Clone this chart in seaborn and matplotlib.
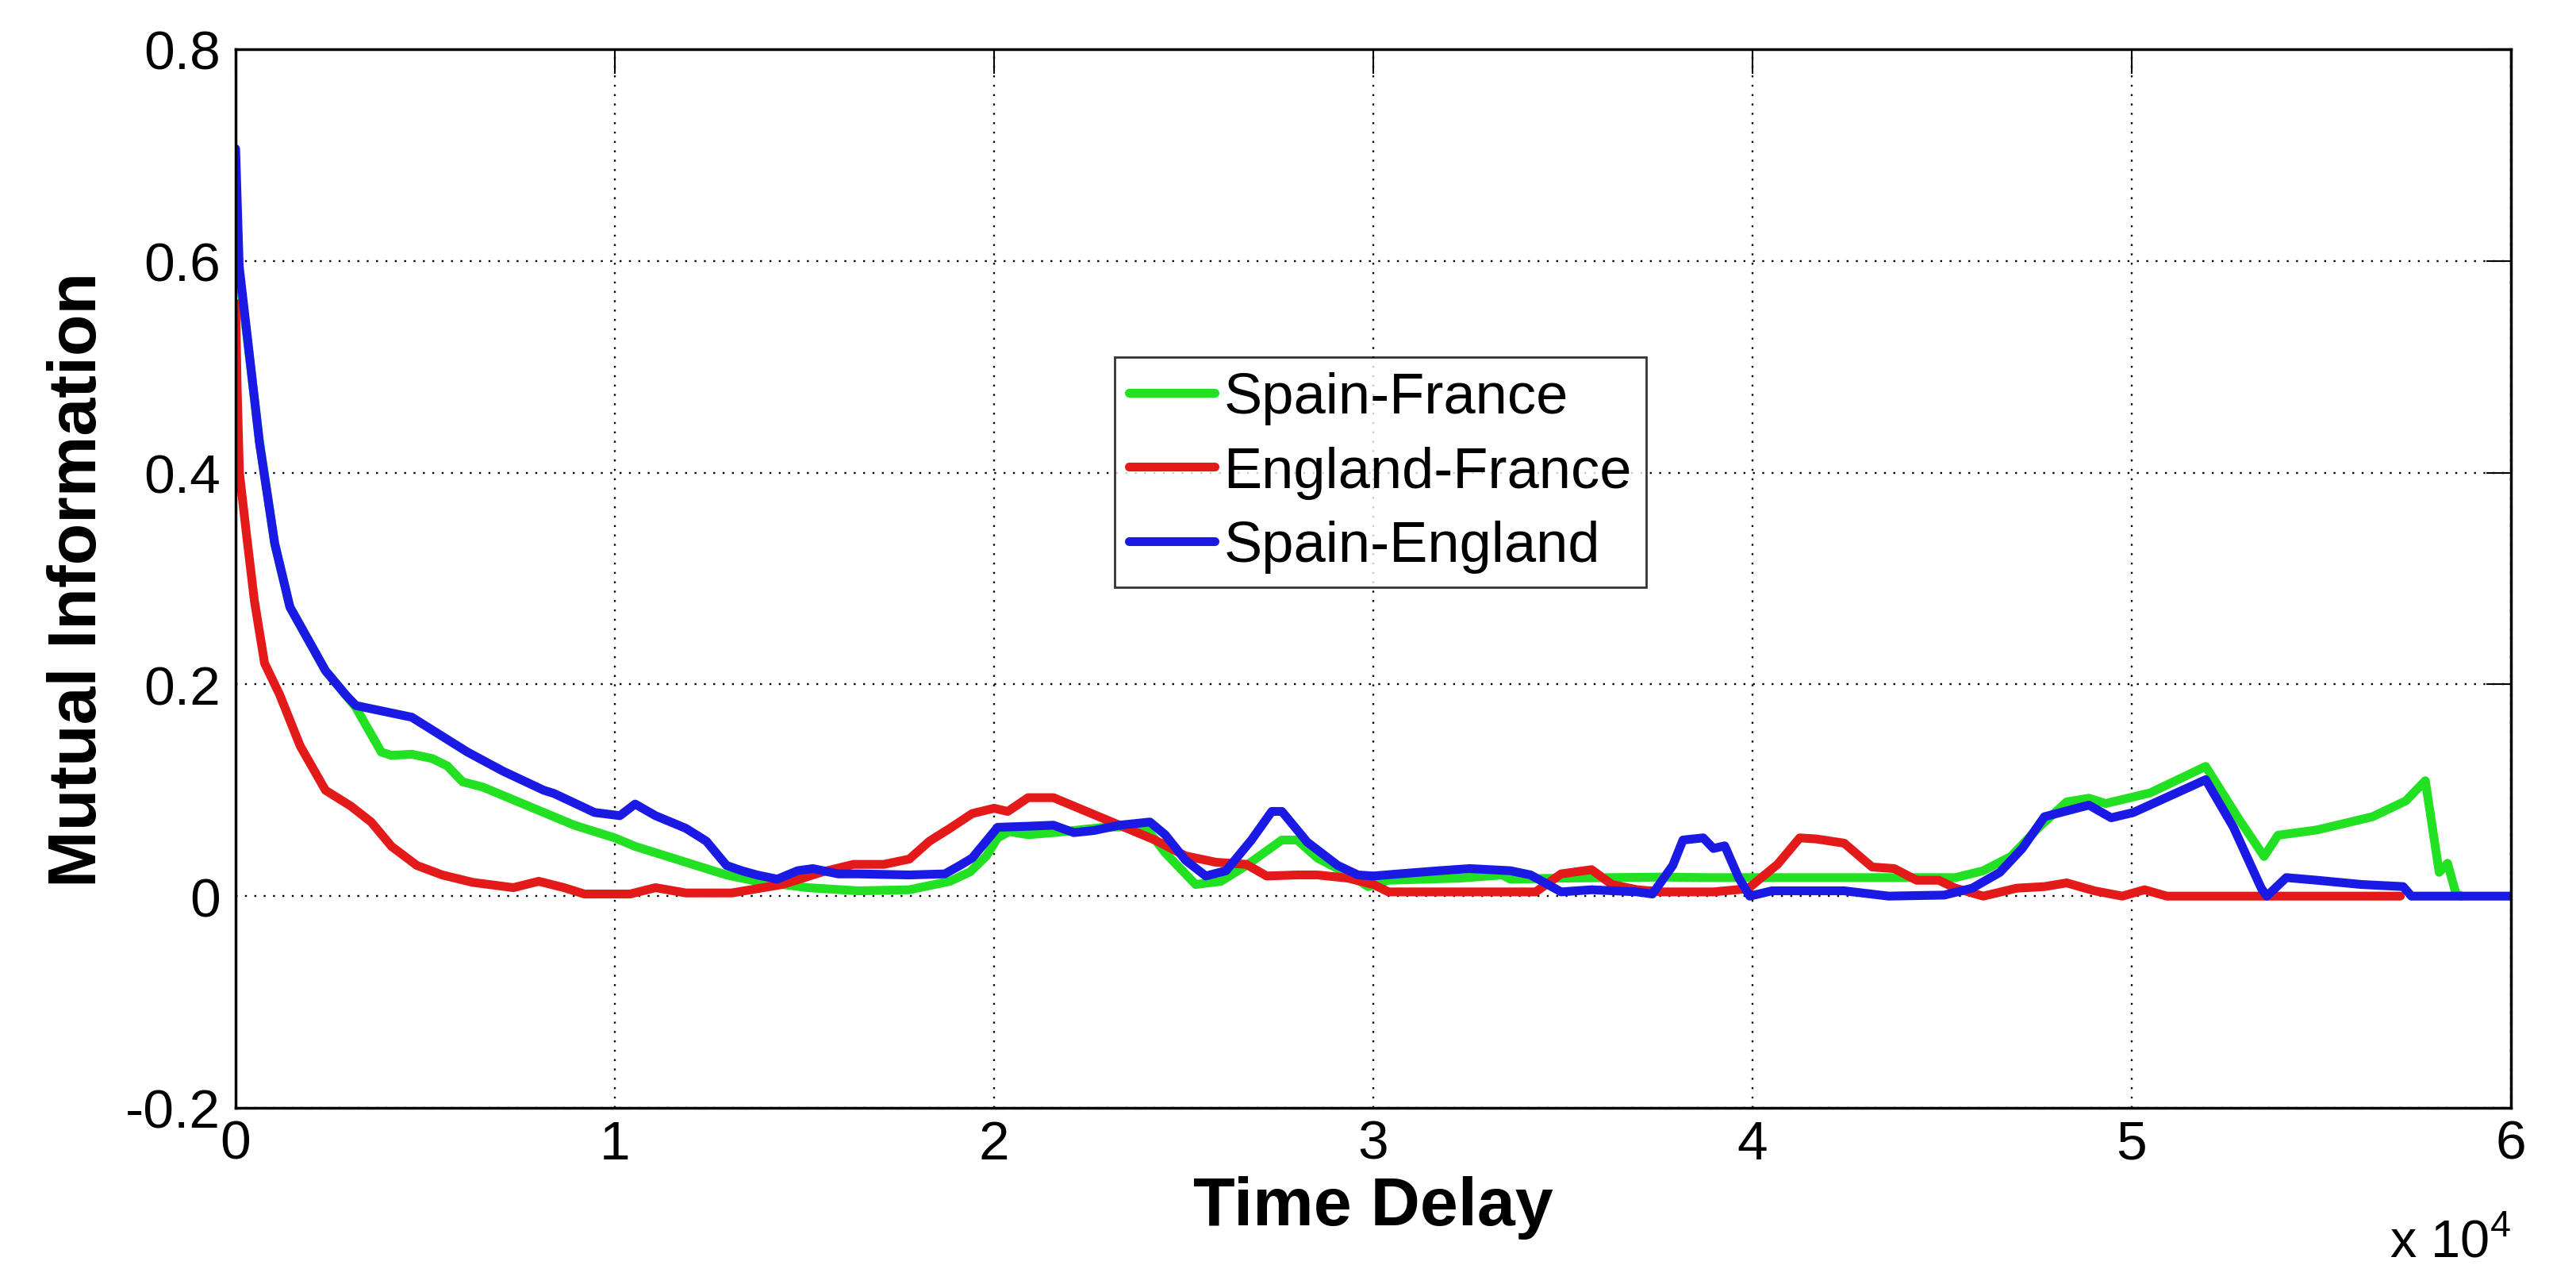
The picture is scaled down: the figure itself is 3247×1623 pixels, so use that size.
import numpy as np
import pandas as pd
import matplotlib
matplotlib.use('Agg')
import matplotlib.pyplot as plt
import seaborn as sns

# Spain-France (green)
sf_t = [0, 94, 361, 629, 1031, 1432, 1901, 2369, 2905, 3173, 3842, 4110, 4645, 5181,
        5582, 5984, 6519, 7323, 8126, 8929, 10000, 10535, 11874, 12945, 13748, 15087,
        16426, 17764, 18835, 19371, 19800, 20094, 20400, 20897, 21566, 22905, 23976,
        24512, 25315, 25984, 26653, 27590, 27992, 28527, 29331, 29866, 30402, 32276,
        33400, 33614, 34953, 37630, 38754, 45352, 46085, 46818, 47551, 48285, 48871,
        49311, 50484, 51950, 52830, 53490, 53856, 54883, 56349, 57229, 57742, 58108,
        58328, 58548, 58695]
sf_mi = [0.58, 0.59, 0.51, 0.43, 0.333, 0.273, 0.243, 0.213, 0.19, 0.178, 0.136, 0.133,
         0.134, 0.13, 0.123, 0.108, 0.103, 0.091, 0.079, 0.067, 0.055, 0.047, 0.032,
         0.02, 0.014, 0.008, 0.005, 0.006, 0.014, 0.023, 0.038, 0.055, 0.061, 0.058,
         0.06, 0.065, 0.066, 0.041, 0.011, 0.014, 0.029, 0.053, 0.053, 0.036, 0.021,
         0.009, 0.015, 0.017, 0.02, 0.016, 0.017, 0.018, 0.0175, 0.0175, 0.024, 0.0375,
         0.065, 0.089, 0.0925, 0.0875, 0.0975, 0.1225, 0.0725, 0.0375, 0.0575, 0.0625,
         0.075, 0.09, 0.109, 0.0225, 0.031, 0.0025, 0.0]

# England-France (red)
ef_t = [0, 40, 100, 295, 495, 763, 1165, 1700, 2369, 3039, 3574, 4110, 4779, 5448,
        6252, 7323, 7992, 8661, 9197, 10402, 11071, 11874, 13079, 14418, 15489, 16292,
        17095, 17764, 18300, 18835, 19424, 20000, 20361, 20897, 21566, 22236, 22905,
        23574, 24244, 25047, 25850, 26653, 27189, 27992, 28527, 29331, 30000, 30402,
        32276, 34284, 34953, 35756, 36292, 36961, 37630, 38969, 39880, 40660, 41246,
        41686, 42419, 43153, 43739, 44326, 44912, 45352, 46085, 46965, 47698, 48285,
        49018, 49751, 50337, 50924, 57082]
ef_mi = [0.56, 0.48, 0.40, 0.339, 0.279, 0.22, 0.19, 0.142, 0.1, 0.085, 0.07, 0.047,
         0.029, 0.02, 0.013, 0.008, 0.014, 0.008, 0.002, 0.002, 0.008, 0.003, 0.003,
         0.011, 0.023, 0.03, 0.03, 0.035, 0.052, 0.064, 0.078, 0.083, 0.08, 0.093,
         0.093, 0.083, 0.073, 0.063, 0.053, 0.038, 0.032, 0.03, 0.019, 0.02, 0.02,
         0.017, 0.011, 0.004, 0.004, 0.004, 0.021, 0.025, 0.011, 0.006, 0.004, 0.004,
         0.007, 0.03, 0.055, 0.054, 0.05, 0.0275, 0.026, 0.015, 0.015, 0.0075, 0.0,
         0.0075, 0.009, 0.0125, 0.005, 0.0, 0.006, 0.0, 0.0]

# Spain-England (blue)
se_t = [0, 94, 361, 629, 1031, 1432, 1901, 2369, 2905, 3173, 3842, 4645, 5315, 6118,
        7055, 8126, 8394, 9465, 10134, 10535, 11071, 11874, 12410, 12945, 13347, 13748,
        14284, 14819, 15221, 15890, 16426, 17764, 18701, 19100, 19424, 20094, 20897,
        21566, 22102, 22637, 23307, 24110, 24512, 25047, 25582, 26118, 26787, 27323,
        27590, 28259, 29063, 29598, 30000, 30669, 31740, 32543, 33614, 34150, 34953,
        35756, 36961, 37362, 37898, 38166, 38701, 38969, 39267, 39633, 39927, 40513,
        42419, 43592, 45059, 45792, 46525, 47112, 47698, 48871, 49458, 50044, 51950,
        52683, 53416, 53563, 54076, 54883, 56056, 57156, 57376, 60000]
se_mi = [0.706, 0.595, 0.512, 0.428, 0.333, 0.273, 0.243, 0.213, 0.19, 0.18, 0.175,
         0.169, 0.154, 0.136, 0.118, 0.1, 0.097, 0.079, 0.076, 0.087, 0.076, 0.064,
         0.052, 0.029, 0.024, 0.02, 0.016, 0.024, 0.026, 0.021, 0.021, 0.02, 0.021,
         0.029, 0.036, 0.065, 0.066, 0.067, 0.06, 0.062, 0.067, 0.07, 0.058, 0.034,
         0.019, 0.024, 0.053, 0.08, 0.08, 0.051, 0.029, 0.02, 0.019, 0.021, 0.024,
         0.026, 0.024, 0.02, 0.004, 0.006, 0.004, 0.002, 0.029, 0.053, 0.055, 0.045,
         0.0475, 0.0175, 0.0, 0.005, 0.005, 0.0, 0.001, 0.0075, 0.0225, 0.045, 0.075,
         0.086, 0.074, 0.079, 0.11, 0.065, 0.0075, 0.0, 0.0175, 0.015, 0.011, 0.009,
         0.0, 0.0]

pairs = ['Spain-France', 'England-France', 'Spain-England']
colors = ['#22e022', '#e41a1a', '#1a1ae4']
x_ticks = [0, 10000, 20000, 30000, 40000, 50000, 60000]
y_ticks = [-0.2, 0, 0.2, 0.4, 0.6, 0.8]


def build_frame():
    frames = []
    for name, t, mi in zip(pairs, [sf_t, ef_t, se_t], [sf_mi, ef_mi, se_mi]):
        assert len(t) == len(mi), name
        frames.append(pd.DataFrame({'t': t, 'mi': mi, 'pair': name}))
    return pd.concat(frames, ignore_index=True)


def main():
    df = build_frame()

    sns.set_style('white')
    plt.rcParams['font.family'] = ['Liberation Sans', 'DejaVu Sans']
    plt.rcParams['mathtext.fontset'] = 'custom'
    plt.rcParams['mathtext.rm'] = 'Liberation Sans'
    plt.rcParams['text.color'] = 'black'
    plt.rcParams['axes.labelcolor'] = 'black'

    fig = plt.figure(figsize=(32.48, 16.24), dpi=100)
    ax = fig.add_axes([297 / 3248, 1 - 1397 / 1624, 2868 / 3248, 1334 / 1624])

    sns.lineplot(data=df, x='t', y='mi', hue='pair', hue_order=pairs,
                 palette=colors, estimator=None, sort=False, linewidth=8, ax=ax)

    ax.set_xlim(0, 60000)
    ax.set_ylim(-0.2, 0.8)
    ax.set_xticks(x_ticks)
    ax.set_xticklabels([f'{v / 1e4:g}' for v in x_ticks])
    ax.set_yticks(y_ticks)
    ax.set_yticklabels([f'{v:g}' for v in y_ticks])

    ax.grid(True, color='black', linestyle=(0, (1, 4)), linewidth=1.7)
    ax.tick_params(direction='in', top=True, right=True, length=22, width=1.5,
                   labelsize=50, colors='black')
    ax.tick_params(axis='x', pad=10)
    ax.tick_params(axis='y', pad=14)
    for s in ax.spines.values():
        s.set_color('black')
        s.set_linewidth(2.5)

    ax.set_xlabel('Time Delay', fontsize=62, fontweight='bold', color='black')
    ax.set_ylabel('Mutual Information', fontsize=62, fontweight='bold', color='black')
    ax.xaxis.set_label_coords(0.5, -0.064)
    ax.yaxis.set_label_coords(-0.055, 0.5)

    handles, labels = ax.get_legend_handles_labels()
    leg = ax.legend(handles, labels, loc='center',
                    bbox_to_anchor=((1740 - 297) / 2868, (1397 - 596) / 1334),
                    fontsize=52, frameon=True, fancybox=False, handlelength=1.5,
                    handletextpad=0.15, labelspacing=0.37, borderpad=0.25,
                    borderaxespad=0)
    leg.get_frame().set_edgecolor('black')
    leg.get_frame().set_linewidth(2)
    for line in leg.get_lines():
        line.set_linewidth(8)
    for txt in leg.get_texts():
        txt.set_color('black')

    fig.text(3165 / 3248, 1 - 1585 / 1624, r'x 10$^{4}$', fontsize=48,
             ha='right', va='baseline', color='black')

    fig.savefig('out.png', dpi=100, facecolor='white')
    plt.close(fig)


if __name__ == '__main__':
    main()
